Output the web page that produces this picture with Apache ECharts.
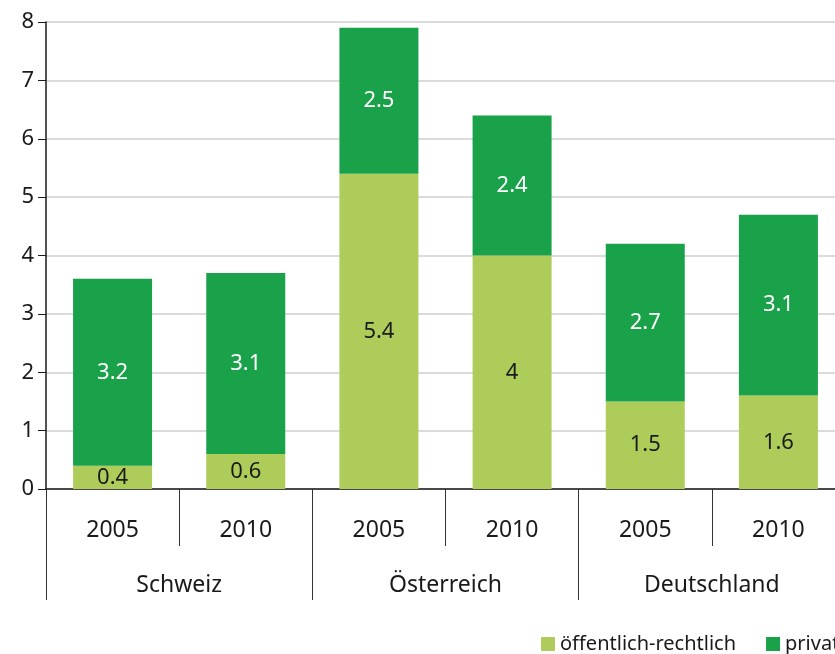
<!DOCTYPE html>
<html>
<head>
<meta charset="utf-8">
<script src="https://cdn.jsdelivr.net/npm/echarts@6/dist/echarts.min.js"></script>
<style>html,body{margin:0;padding:0;background:#fff;overflow:hidden}#c{width:850px;height:654px}</style>
</head>
<body>
<div id="c"></div>
<script>
var years = ['2005', '2010', '2005', '2010', '2005', '2010'];
var countries = ['Schweiz', 'Österreich', 'Deutschland'];
var oeffentlich = [0.4, 0.6, 5.4, 4, 1.5, 1.6];
var privat = [3.2, 3.1, 2.5, 2.4, 2.7, 3.1];
var yTicks = [0, 1, 2, 3, 4, 5, 6, 7, 8];

var FONT = '"Noto Sans", "Open Sans", sans-serif';
var chart = echarts.init(document.getElementById('c'));
chart.setOption({
  animation: false,
  textStyle: { fontFamily: FONT },
  grid: { left: 46, top: 22, height: 467, width: 799, containLabel: false },
  legend: {
    top: 634, left: 541, width: 300, padding: 0,
    orient: 'horizontal',
    itemWidth: 14, itemHeight: 14, itemGap: 30,
    icon: 'rect',
    textStyle: { fontSize: 20, color: '#1a1a1a', fontFamily: FONT },
    data: ['öffentlich-rechtlich', 'privat']
  },
  xAxis: [
    {
      type: 'category', data: years, position: 'bottom',
      axisLine: { show: true, lineStyle: { color: '#1a1a1a', width: 1.5 } },
      axisTick: { show: true, length: 57, lineStyle: { color: '#333' } },
      axisLabel: { fontSize: 23, color: '#1a1a1a', margin: 30 },
      splitLine: { show: false }
    },
    {
      type: 'category', data: countries, position: 'bottom',
      axisLine: { show: false },
      axisTick: { show: true, length: 111, lineStyle: { color: '#333' } },
      axisLabel: { fontSize: 23, color: '#1a1a1a', margin: 85 },
      splitLine: { show: false }
    }
  ],
  yAxis: {
    type: 'value', min: yTicks[0], max: yTicks[yTicks.length - 1], interval: 1,
    axisLine: { show: true, lineStyle: { color: '#1a1a1a', width: 1.5 } },
    axisTick: { show: true, length: 8, lineStyle: { color: '#1a1a1a' } },
    axisLabel: { fontSize: 22, color: '#1a1a1a', margin: 12 },
    splitLine: { show: true, lineStyle: { color: '#cfcfcf', width: 1.5 } }
  },
  series: [
    {
      name: 'öffentlich-rechtlich', type: 'bar', stack: 'a', xAxisIndex: 0,
      barWidth: 79, data: oeffentlich,
      itemStyle: { color: '#AECC59' },
      label: { show: true, position: 'inside', fontSize: 22, color: '#1a1a1a', fontFamily: FONT }
    },
    {
      name: 'privat', type: 'bar', stack: 'a', xAxisIndex: 0,
      barWidth: 79, data: privat,
      itemStyle: { color: '#19A249' },
      label: { show: true, position: 'inside', fontSize: 22, color: '#ffffff', fontFamily: FONT }
    }
  ]
});
</script>
</body>
</html>
